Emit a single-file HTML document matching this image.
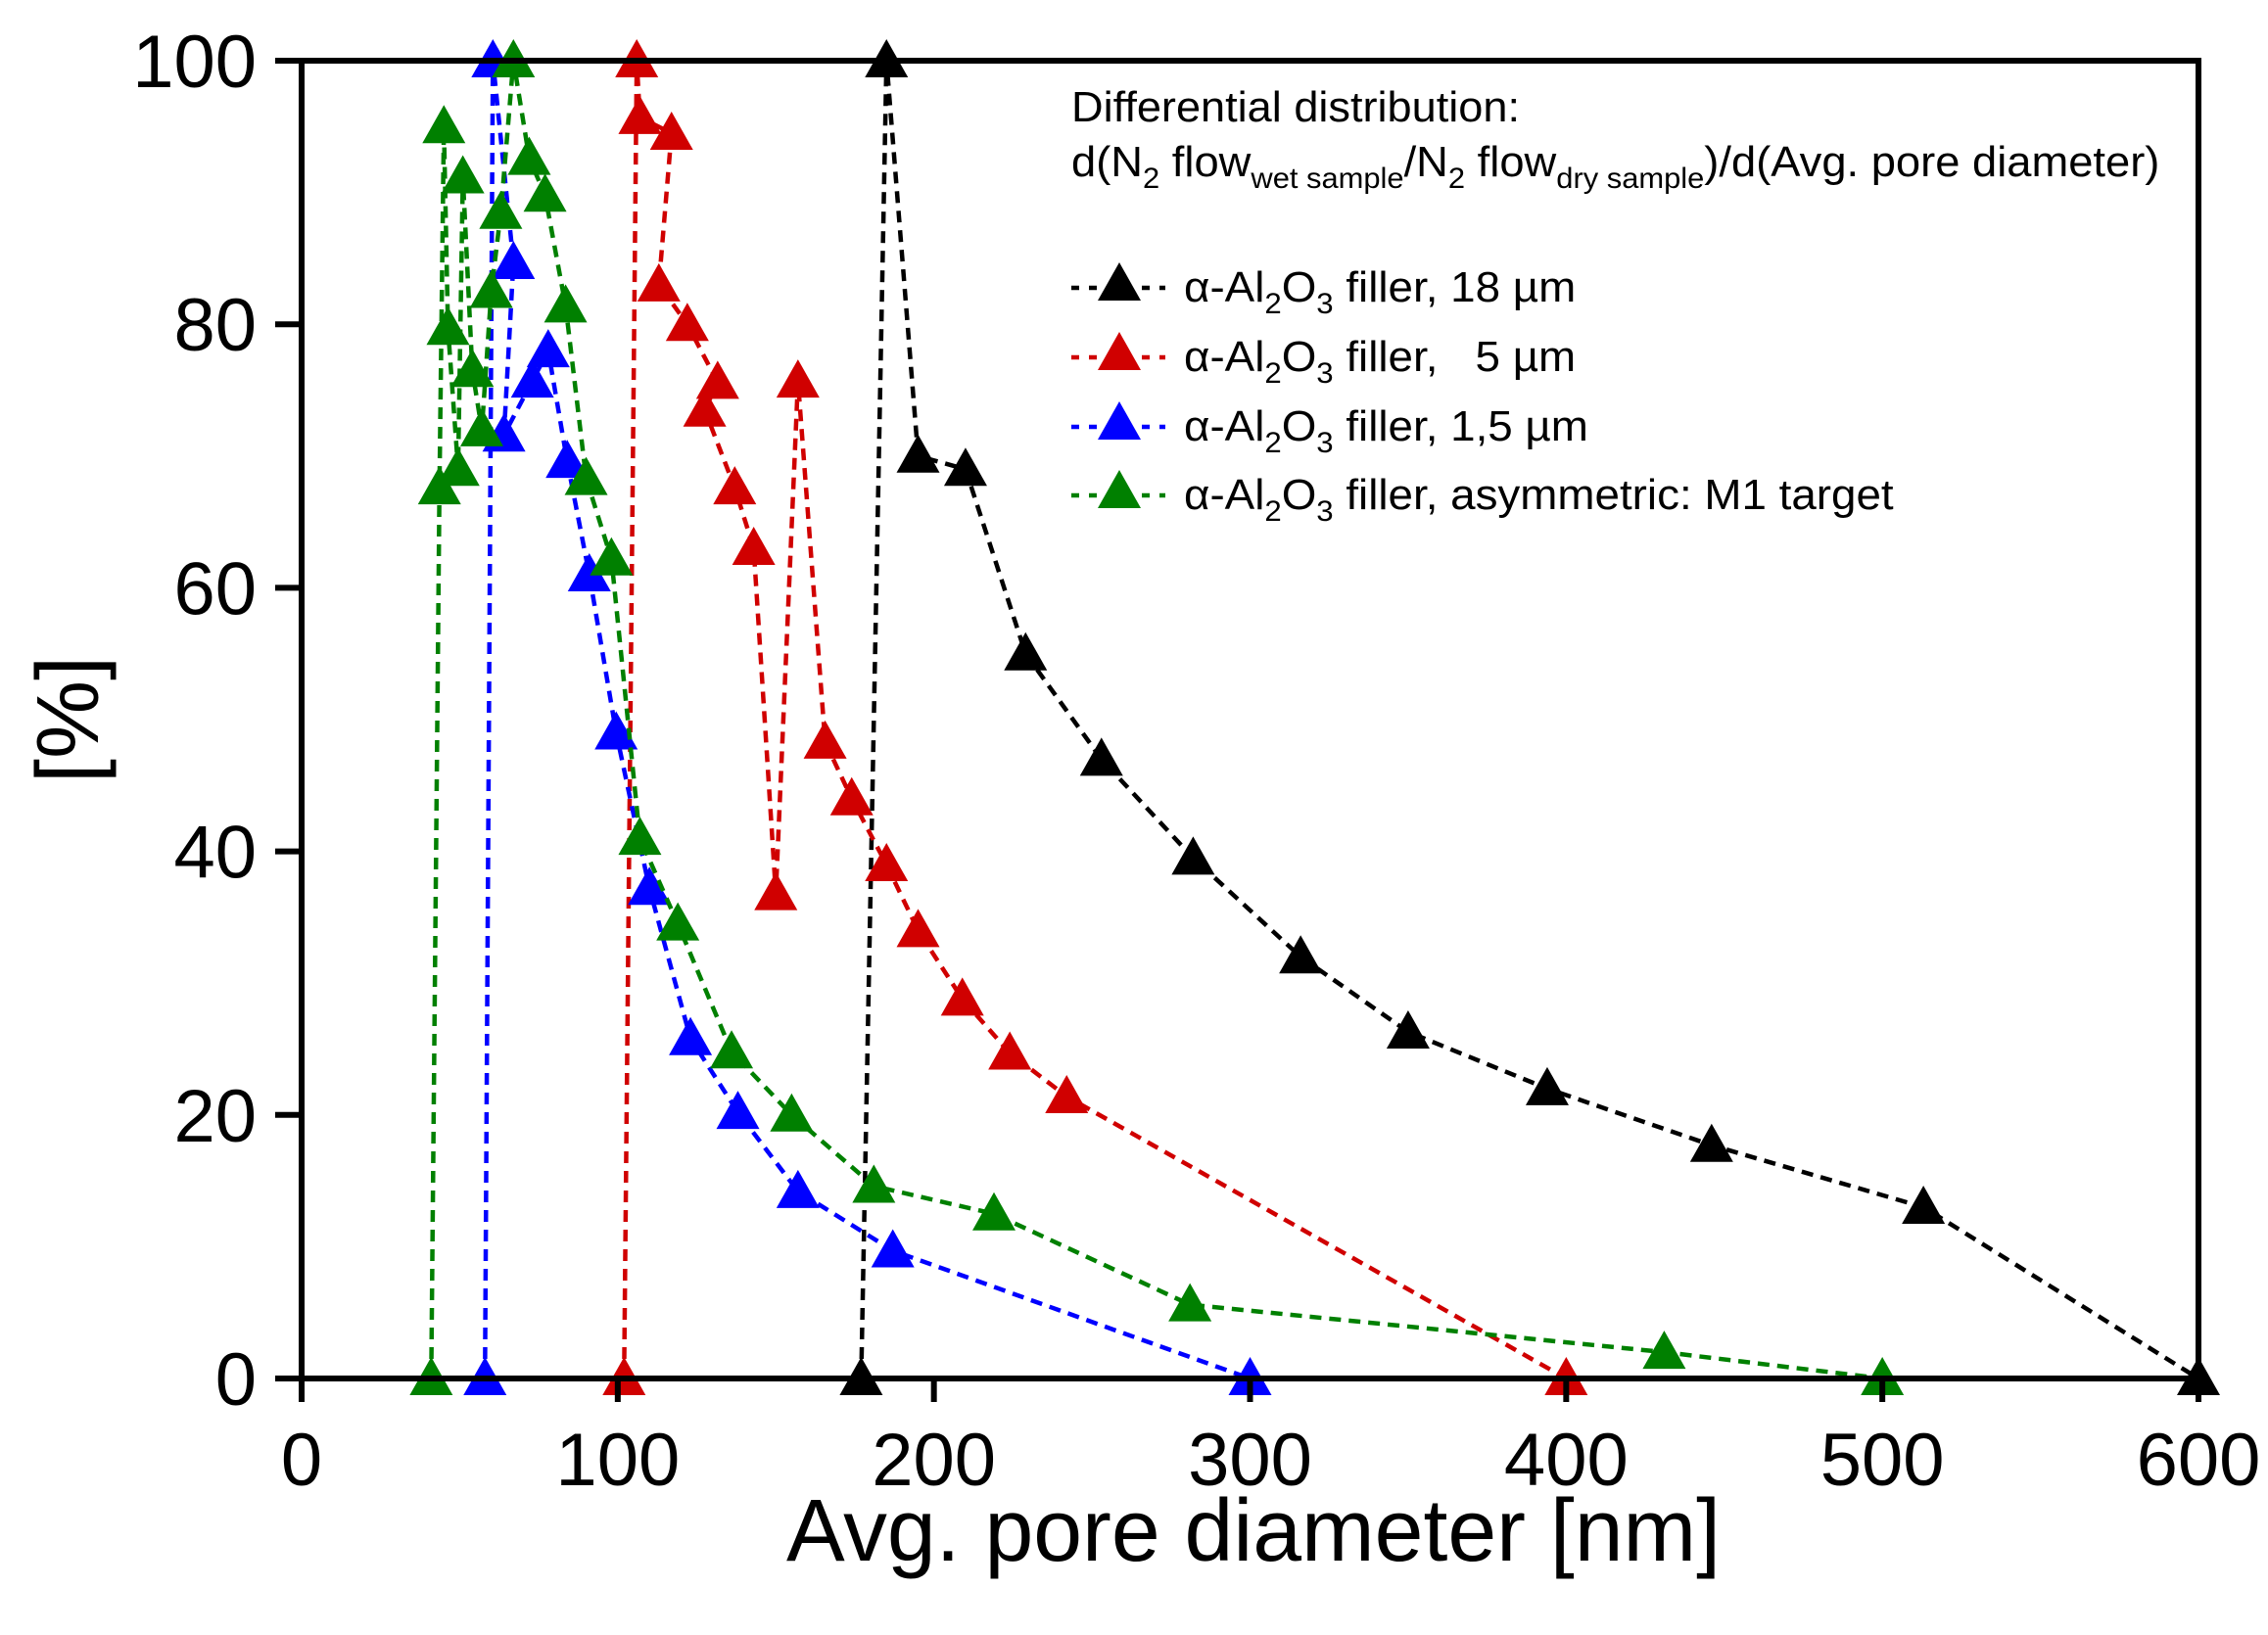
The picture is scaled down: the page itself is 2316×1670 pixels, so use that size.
<!DOCTYPE html>
<html><head><meta charset="utf-8"><style>
html,body{margin:0;padding:0;background:#fff}
svg{display:block;font-family:"Liberation Sans",Arial,sans-serif}
</style></head><body>
<svg id="chart" width="2316" height="1670" viewBox="0 0 2316 1670" xmlns="http://www.w3.org/2000/svg">
<g id="plot"></g>
<g id="axes"></g>
<g id="legend"></g>
</svg>
<script>
const xTicks = [0,100,200,300,400,500,600];
const yTicks = [0,20,40,60,80,100];
const seriesNames = ["18 µm","5 µm","1,5 µm","asymmetric: M1 target"];
const seriesColors = ["#000000","#d00000","#0000ff","#008000"];
const blackX = [177,185,195,210,229,253,282,316,350,394,446,513,600];
const blackY = [0,100,70,69,55,47,39.5,32,26.3,22,17.7,13,0];
const redX = [102,106,107,117,113,122,131.6,127.5,137,143,150,157,165.6,174,185,195,209,224,242,400];
const redY = [0,100,95.7,94.5,83,80,75.6,73.5,67.6,63,36.8,75.7,48.3,44,39,34,28.8,24.7,21.4,0];
const blueX = [58,60.5,67,64,73,78,84,91,99.5,110,123,138,157,187,300];
const blueY = [0,100,84.7,71.6,75.7,78,69.6,61,49,37.2,25.8,20.2,14.2,9.7,0];
const greenX = [41,43.6,45,46.3,49.5,51,54,57,60,63,67,72,77,83.5,90,98,107,119,136,155,181,219,281,431,500];
const greenY = [0,67.6,95,79.7,69,91.2,76.5,72,82.5,88.5,100,92.6,89.8,81.4,68.3,62.2,41,34.5,24.8,20,14.6,12.5,5.6,2,0];

const NS="http://www.w3.org/2000/svg";
const X0=308,X1=2245,Y0=1408,Y1=62;
const sx=v=>X0+(v-0)/(600-0)*(X1-X0);
const sy=v=>Y0-(v-0)/(100-0)*(Y0-Y1);
function mk(tag,attrs,parent){const e=document.createElementNS(NS,tag);for(const k in attrs)e.setAttribute(k,attrs[k]);parent.appendChild(e);return e;}
const plot=document.getElementById('plot'),axes=document.getElementById('axes'),legend=document.getElementById('legend');
function tri(cx,cy,col,parent){return mk('polygon',{points:`${cx},${cy-22} ${cx-22},${cy+17} ${cx+22},${cy+17}`,fill:col},parent);}
const all=[[blackX,blackY],[redX,redY],[blueX,blueY],[greenX,greenY]];
const keys=['black','red','blue','green'];
all.forEach((s,i)=>{
  const g=mk('g',{},plot);
  
  
  const pts=s[0].map((x,j)=>sx(x)+','+sy(s[1][j])).join(' ');
  const pl=mk('polyline',{points:pts,fill:'none',stroke:seriesColors[i],'stroke-width':4.5,'stroke-dasharray':'12,8'},g);
  
  
  s[0].forEach((x,j)=>{const t=tri(sx(x),sy(s[1][j]),seriesColors[i],g);
    
    });
});
const fr=mk('rect',{x:X0,y:Y1,width:X1-X0,height:Y0-Y1,fill:'none',stroke:'#000','stroke-width':6},axes);


xTicks.forEach(v=>{
  const l=mk('line',{x1:sx(v),x2:sx(v),y1:Y0,y2:Y0+24,stroke:'#000','stroke-width':6},axes);
  
  
  const t=mk('text',{x:sx(v),y:1517,'font-size':76,'text-anchor':'middle'},axes);t.textContent=v;
  
  
});
yTicks.forEach(v=>{
  const l=mk('line',{x1:X0-27,x2:X0,y1:sy(v),y2:sy(v),stroke:'#000','stroke-width':6},axes);
  
  
  const t=mk('text',{x:262,y:sy(v)+27,'font-size':76,'text-anchor':'end'},axes);t.textContent=v;
  
  
});
const xt=mk('text',{x:803,y:1594,'font-size':90,textLength:954,lengthAdjust:'spacingAndGlyphs'},axes);xt.textContent='Avg. pore diameter [nm]';


const yt=mk('text',{x:0,y:0,'font-size':90,'text-anchor':'middle',transform:'translate(100,735) rotate(-90)'},axes);yt.textContent='[%]';


const h1=mk('text',{x:1094,y:124,'font-size':44,textLength:458,lengthAdjust:'spacingAndGlyphs'},legend);h1.textContent='Differential distribution:';


const h2=mk('g',{transform:'translate(1094,180) scale(1.03,1)'},legend);


const h2t=mk('text',{x:0,y:0,'font-size':44},h2);
h2t.innerHTML='d(N<tspan font-size="30" dy="12">2</tspan><tspan dy="-12"> flow</tspan><tspan font-size="30" dy="12">wet sample</tspan><tspan dy="-12">/N</tspan><tspan font-size="30" dy="12">2</tspan><tspan dy="-12"> flow</tspan><tspan font-size="30" dy="12">dry sample</tspan><tspan dy="-12">)/d(Avg. pore diameter)</tspan>';
const ly=[308,379,450,520];
seriesNames.forEach((n,i)=>{
  const g=mk('g',{},legend);
  
  
  mk('line',{x1:1094,x2:1190,y1:ly[i]-14,y2:ly[i]-14,stroke:seriesColors[i],'stroke-width':4.5,'stroke-dasharray':'8,10'},g);
  tri(1143,ly[i]-18,seriesColors[i],g);
  const tg=mk('g',{transform:`translate(1209,${ly[i]}) scale(1.04,1)`},g);
  const t=mk('text',{x:0,y:0,'font-size':44},tg);
  t.innerHTML='α-Al<tspan font-size="30" dy="12">2</tspan><tspan dy="-12">O</tspan><tspan font-size="30" dy="12">3</tspan><tspan dy="-12" xml:space="preserve"> filler, '+(i==1?'  ':'')+n+'</tspan>';
});
</script>
</body></html>
